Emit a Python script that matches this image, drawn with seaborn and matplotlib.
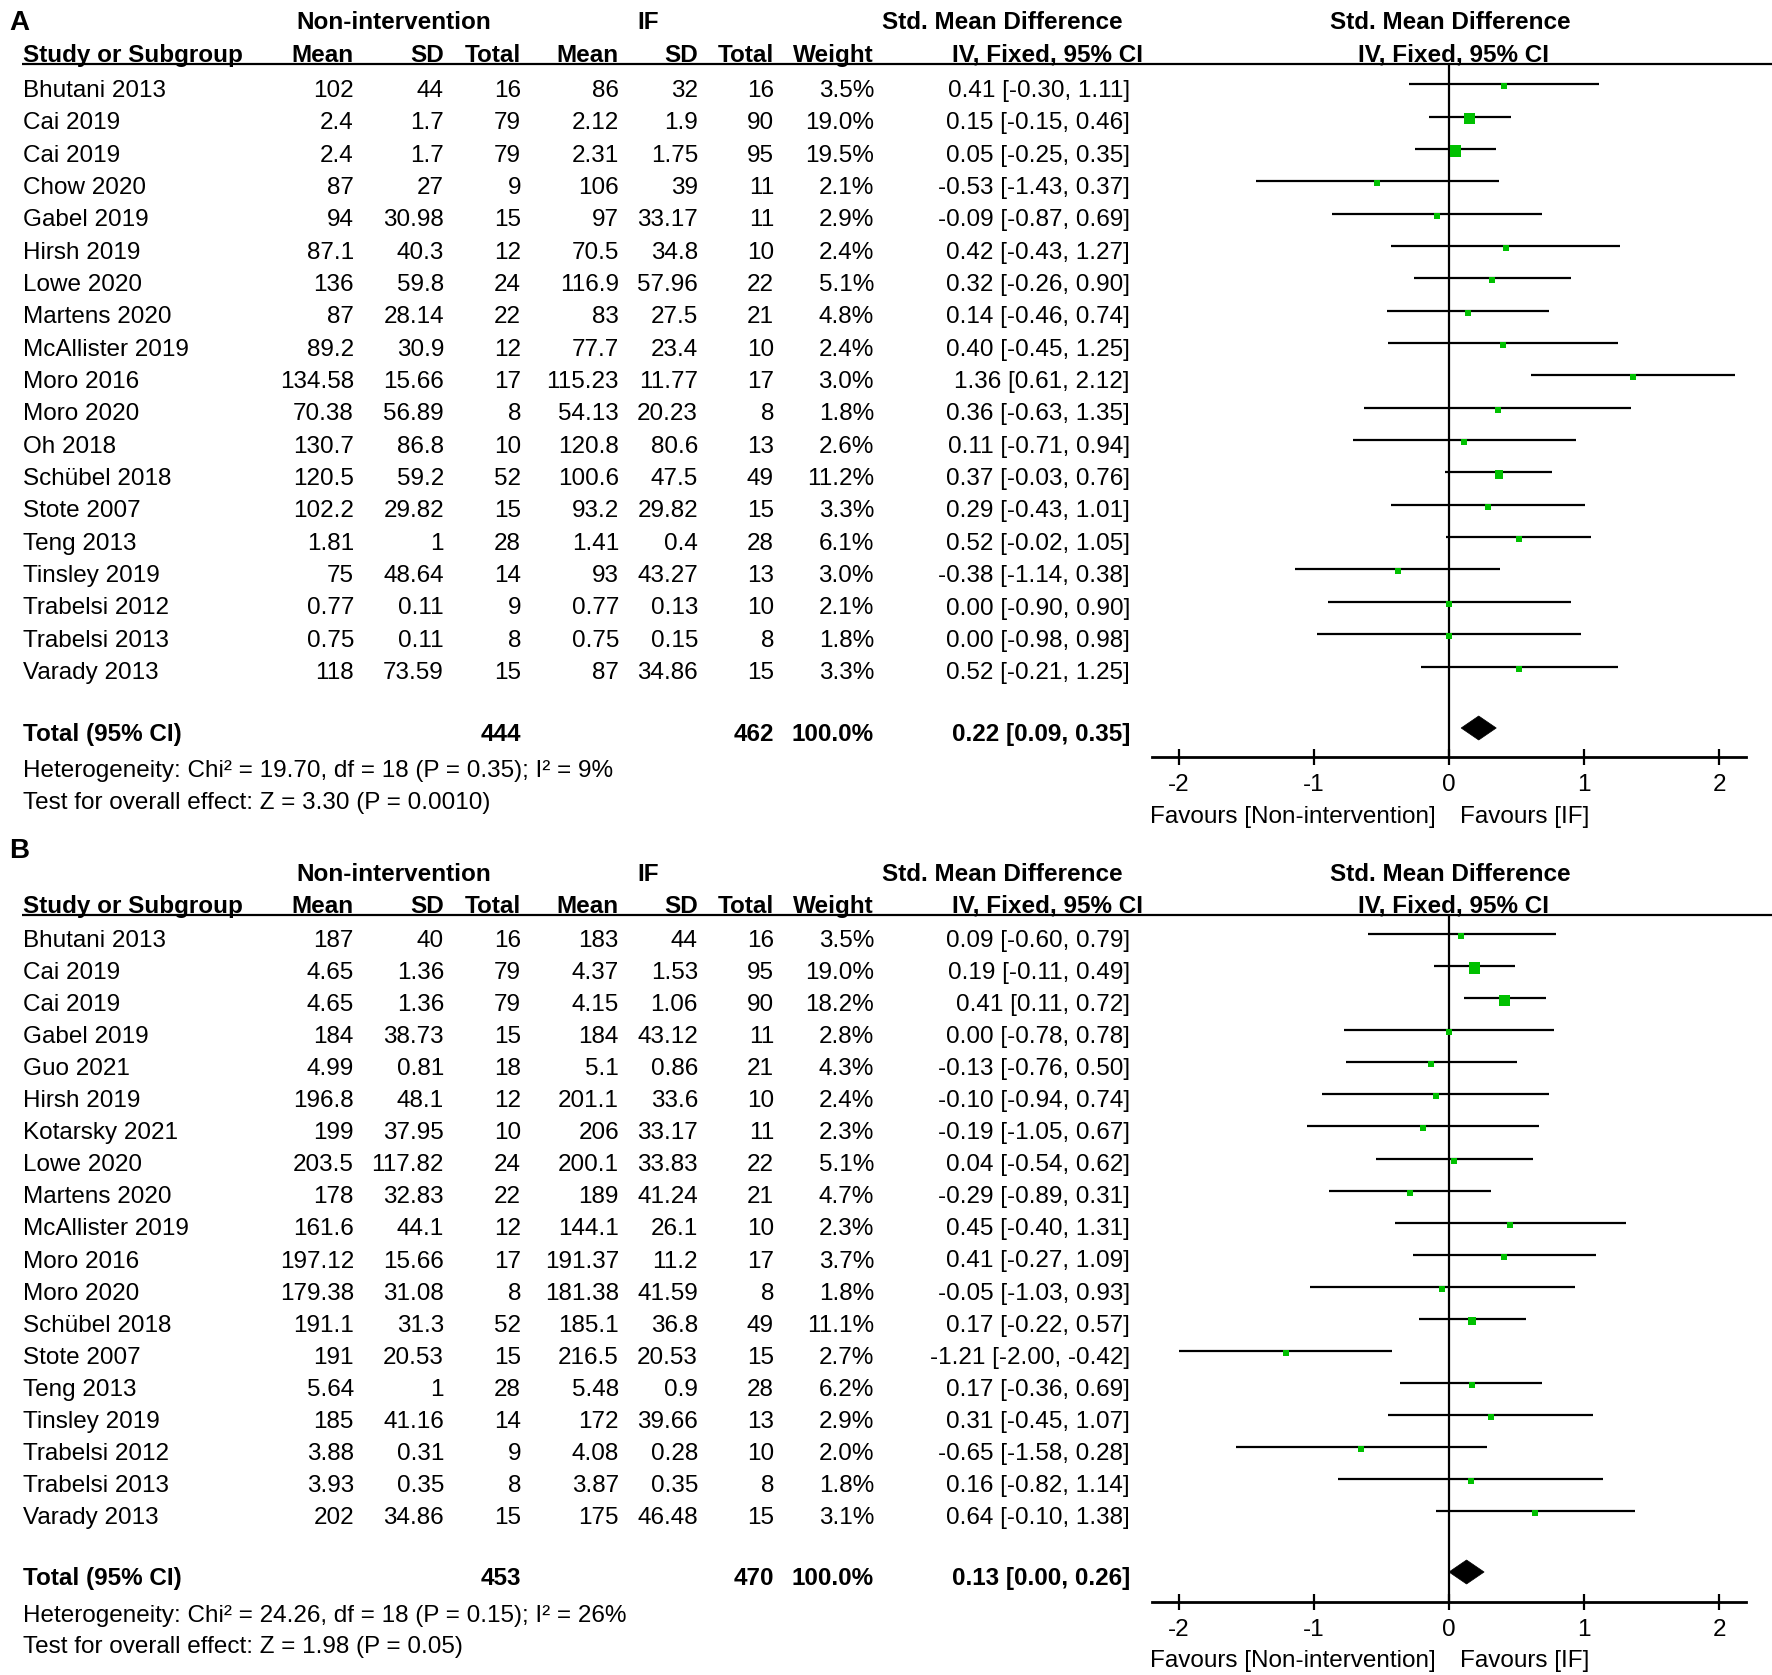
import matplotlib
matplotlib.use("Agg")
import matplotlib.pyplot as plt
import seaborn as sns
import numpy as np
import pandas as pd
from matplotlib.patches import Polygon

# ---------------- data ----------------
studies_a = ["Bhutani 2013", "Cai 2019", "Cai 2019", "Chow 2020", "Gabel 2019", "Hirsh 2019", "Lowe 2020",
             "Martens 2020", "McAllister 2019", "Moro 2016", "Moro 2020", "Oh 2018", "Schübel 2018",
             "Stote 2007", "Teng 2013", "Tinsley 2019", "Trabelsi 2012", "Trabelsi 2013", "Varady 2013"]
ctrl_mean_a = ["102", "2.4", "2.4", "87", "94", "87.1", "136", "87", "89.2", "134.58", "70.38", "130.7",
               "120.5", "102.2", "1.81", "75", "0.77", "0.75", "118"]
ctrl_sd_a = ["44", "1.7", "1.7", "27", "30.98", "40.3", "59.8", "28.14", "30.9", "15.66", "56.89", "86.8",
             "59.2", "29.82", "1", "48.64", "0.11", "0.11", "73.59"]
ctrl_n_a = [16, 79, 79, 9, 15, 12, 24, 22, 12, 17, 8, 10, 52, 15, 28, 14, 9, 8, 15]
if_mean_a = ["86", "2.12", "2.31", "106", "97", "70.5", "116.9", "83", "77.7", "115.23", "54.13", "120.8",
             "100.6", "93.2", "1.41", "93", "0.77", "0.75", "87"]
if_sd_a = ["32", "1.9", "1.75", "39", "33.17", "34.8", "57.96", "27.5", "23.4", "11.77", "20.23", "80.6",
           "47.5", "29.82", "0.4", "43.27", "0.13", "0.15", "34.86"]
if_n_a = [16, 90, 95, 11, 11, 10, 22, 21, 10, 17, 8, 13, 49, 15, 28, 13, 10, 8, 15]
weight_a = [3.5, 19.0, 19.5, 2.1, 2.9, 2.4, 5.1, 4.8, 2.4, 3.0, 1.8, 2.6, 11.2, 3.3, 6.1, 3.0, 2.1, 1.8, 3.3]
smd_a = [0.41, 0.15, 0.05, -0.53, -0.09, 0.42, 0.32, 0.14, 0.40, 1.36, 0.36, 0.11, 0.37, 0.29, 0.52,
         -0.38, 0.00, 0.00, 0.52]
lo_a = [-0.30, -0.15, -0.25, -1.43, -0.87, -0.43, -0.26, -0.46, -0.45, 0.61, -0.63, -0.71, -0.03, -0.43,
        -0.02, -1.14, -0.90, -0.98, -0.21]
hi_a = [1.11, 0.46, 0.35, 0.37, 0.69, 1.27, 0.90, 0.74, 1.25, 2.12, 1.35, 0.94, 0.76, 1.01, 1.05, 0.38,
        0.90, 0.98, 1.25]
total_a = {"n_ctrl": 444, "n_if": 462, "smd": 0.22, "lo": 0.09, "hi": 0.35,
           "het": "Heterogeneity: Chi² = 19.70, df = 18 (P = 0.35); I² = 9%",
           "test": "Test for overall effect: Z = 3.30 (P = 0.0010)"}

studies_b = ["Bhutani 2013", "Cai 2019", "Cai 2019", "Gabel 2019", "Guo 2021", "Hirsh 2019", "Kotarsky 2021",
             "Lowe 2020", "Martens 2020", "McAllister 2019", "Moro 2016", "Moro 2020", "Schübel 2018",
             "Stote 2007", "Teng 2013", "Tinsley 2019", "Trabelsi 2012", "Trabelsi 2013", "Varady 2013"]
ctrl_mean_b = ["187", "4.65", "4.65", "184", "4.99", "196.8", "199", "203.5", "178", "161.6", "197.12",
               "179.38", "191.1", "191", "5.64", "185", "3.88", "3.93", "202"]
ctrl_sd_b = ["40", "1.36", "1.36", "38.73", "0.81", "48.1", "37.95", "117.82", "32.83", "44.1", "15.66",
             "31.08", "31.3", "20.53", "1", "41.16", "0.31", "0.35", "34.86"]
ctrl_n_b = [16, 79, 79, 15, 18, 12, 10, 24, 22, 12, 17, 8, 52, 15, 28, 14, 9, 8, 15]
if_mean_b = ["183", "4.37", "4.15", "184", "5.1", "201.1", "206", "200.1", "189", "144.1", "191.37",
             "181.38", "185.1", "216.5", "5.48", "172", "4.08", "3.87", "175"]
if_sd_b = ["44", "1.53", "1.06", "43.12", "0.86", "33.6", "33.17", "33.83", "41.24", "26.1", "11.2",
           "41.59", "36.8", "20.53", "0.9", "39.66", "0.28", "0.35", "46.48"]
if_n_b = [16, 95, 90, 11, 21, 10, 11, 22, 21, 10, 17, 8, 49, 15, 28, 13, 10, 8, 15]
weight_b = [3.5, 19.0, 18.2, 2.8, 4.3, 2.4, 2.3, 5.1, 4.7, 2.3, 3.7, 1.8, 11.1, 2.7, 6.2, 2.9, 2.0, 1.8, 3.1]
smd_b = [0.09, 0.19, 0.41, 0.00, -0.13, -0.10, -0.19, 0.04, -0.29, 0.45, 0.41, -0.05, 0.17, -1.21, 0.17,
         0.31, -0.65, 0.16, 0.64]
lo_b = [-0.60, -0.11, 0.11, -0.78, -0.76, -0.94, -1.05, -0.54, -0.89, -0.40, -0.27, -1.03, -0.22, -2.00,
        -0.36, -0.45, -1.58, -0.82, -0.10]
hi_b = [0.79, 0.49, 0.72, 0.78, 0.50, 0.74, 0.67, 0.62, 0.31, 1.31, 1.09, 0.93, 0.57, -0.42, 0.69, 1.07,
        0.28, 1.14, 1.38]
total_b = {"n_ctrl": 453, "n_if": 470, "smd": 0.13, "lo": 0.00, "hi": 0.26,
           "het": "Heterogeneity: Chi² = 24.26, df = 18 (P = 0.15); I² = 26%",
           "test": "Test for overall effect: Z = 1.98 (P = 0.05)"}

x_ticks = [-2, -1, 0, 1, 2]
x_ticklabels = ["-2", "-1", "0", "1", "2"]

# ---------------- figure ----------------
sns.set_style("white")
plt.rcParams['font.family'] = ['Liberation Sans', 'DejaVu Sans']

W, H = 1772, 1675
fig = plt.figure(figsize=(W / 100, H / 100), dpi=100)
bg = fig.add_axes([0, 0, 1, 1])
bg.set_xlim(0, W)
bg.set_ylim(H, 0)
bg.axis('off')

FS = 17.5
GREEN = "#00C000"


def txt(x, y, s, ha='left', bold=False, size=FS):
    bg.text(x, y + 8.7 * size / FS, s, ha=ha, va='baseline', fontsize=size,
            fontweight='bold' if bold else 'normal', color='black')


COL = dict(cm=354, csd=444, cn=521, im=619, isd=698, inn=774, w=874, ci=1130)
FX0, FX1 = 1152, 1746


def panel(letter, geo, studies, cmean, csd, cn, imean, isd, inn, wts, smd, lo, hi, tot):
    txt(9, geo["letter"], letter, bold=True, size=20)
    # header row 1
    txt(394, geo["h1"], "Non-intervention", ha='center', bold=True)
    txt(648, geo["h1"], "IF", ha='center', bold=True)
    txt(1002, geo["h1"], "Std. Mean Difference", ha='center', bold=True)
    txt(1450, geo["h1"], "Std. Mean Difference", ha='center', bold=True)
    # header row 2
    h2 = geo["h2"]
    txt(23, h2, "Study or Subgroup", bold=True)
    txt(COL["cm"], h2, "Mean", ha='right', bold=True)
    txt(COL["csd"], h2, "SD", ha='right', bold=True)
    txt(COL["cn"], h2, "Total", ha='right', bold=True)
    txt(COL["im"], h2, "Mean", ha='right', bold=True)
    txt(COL["isd"], h2, "SD", ha='right', bold=True)
    txt(COL["inn"], h2, "Total", ha='right', bold=True)
    txt(COL["w"], h2, "Weight", ha='right', bold=True)
    txt(1143, h2, "IV, Fixed, 95% CI", ha='right', bold=True)
    txt(1454, h2, "IV, Fixed, 95% CI", ha='center', bold=True)
    bg.plot([22, W], [geo["line"], geo["line"]], color='black', lw=1.6, solid_capstyle='butt')

    rows = geo["row0"] + geo["dy"] * np.arange(len(studies))
    for i, y in enumerate(rows):
        txt(23, y, studies[i])
        txt(COL["cm"], y, cmean[i], ha='right')
        txt(COL["csd"], y, csd[i], ha='right')
        txt(COL["cn"], y, str(cn[i]), ha='right')
        txt(COL["im"], y, imean[i], ha='right')
        txt(COL["isd"], y, isd[i], ha='right')
        txt(COL["inn"], y, str(inn[i]), ha='right')
        txt(COL["w"], y, f"{wts[i]:.1f}%", ha='right')
        txt(COL["ci"], y, f"{smd[i]:.2f} [{lo[i]:.2f}, {hi[i]:.2f}]", ha='right')

    ty = geo["total"]
    txt(23, ty, "Total (95% CI)", bold=True)
    txt(COL["cn"], ty, str(tot["n_ctrl"]), ha='right', bold=True)
    txt(COL["inn"], ty, str(tot["n_if"]), ha='right', bold=True)
    txt(COL["w"], ty, "100.0%", ha='right', bold=True)
    txt(COL["ci"], ty, f"{tot['smd']:.2f} [{tot['lo']:.2f}, {tot['hi']:.2f}]", ha='right', bold=True)
    txt(23, geo["het"], tot["het"])
    txt(23, geo["test"], tot["test"])

    # forest axes (x in SMD units, y in figure pixel rows)
    ax = fig.add_axes([FX0 / W, 1 - geo["axis"] / H, (FX1 - FX0) / W, (geo["axis"] - geo["line"]) / H])
    ax.set_facecolor('none')
    ax.set_xlim(-2.2, 2.2)
    ax.set_ylim(geo["axis"], geo["line"])
    ax.hlines(rows - 4, lo, hi, color='black', lw=1.6)
    side_px = np.maximum(6.0, 2.6 * np.sqrt(np.array(wts)))
    df = pd.DataFrame({"smd": smd, "y": rows - 2})
    sns.scatterplot(data=df, x="smd", y="y", marker='s', color=GREEN, s=(side_px * 0.72) ** 2,
                    linewidth=0, ax=ax, zorder=3, legend=False)
    ax.axvline(0, color='black', lw=1.6, zorder=2)
    dy = ty - 4
    ax.add_patch(Polygon([(tot["lo"], dy), (tot["smd"], dy - 12), (tot["hi"], dy), (tot["smd"], dy + 12)],
                         closed=True, facecolor='black', edgecolor='black', lw=0.5, zorder=4))
    for s in ["top", "right", "left"]:
        ax.spines[s].set_visible(False)
    ax.spines["bottom"].set_color('black')
    ax.spines["bottom"].set_linewidth(2)
    ax.set_xticks(x_ticks)
    ax.set_xticklabels(x_ticklabels)
    ax.set_yticks([])
    ax.tick_params(axis='x', direction='inout', length=12, width=1.6, labelsize=FS, pad=6,
                   colors='black', bottom=True)
    ax.set_xlabel("")
    ax.set_ylabel("")

    txt(1150, geo["fav"], "Favours [Non-intervention]")
    txt(1460, geo["fav"], "Favours [IF]")


geo_a = dict(letter=20, h1=20, h2=53, line=64, row0=88.2, dy=32.35, total=732, het=768, test=800,
             axis=757, fav=814)
geo_b = dict(letter=848, h1=872, h2=904, line=915, row0=938, dy=32.08, total=1576, het=1613, test=1644,
             axis=1602, fav=1658)

panel("A", geo_a, studies_a, ctrl_mean_a, ctrl_sd_a, ctrl_n_a, if_mean_a, if_sd_a, if_n_a, weight_a,
      smd_a, lo_a, hi_a, total_a)
panel("B", geo_b, studies_b, ctrl_mean_b, ctrl_sd_b, ctrl_n_b, if_mean_b, if_sd_b, if_n_b, weight_b,
      smd_b, lo_b, hi_b, total_b)

fig.savefig("out.png", dpi=100, facecolor='white')
